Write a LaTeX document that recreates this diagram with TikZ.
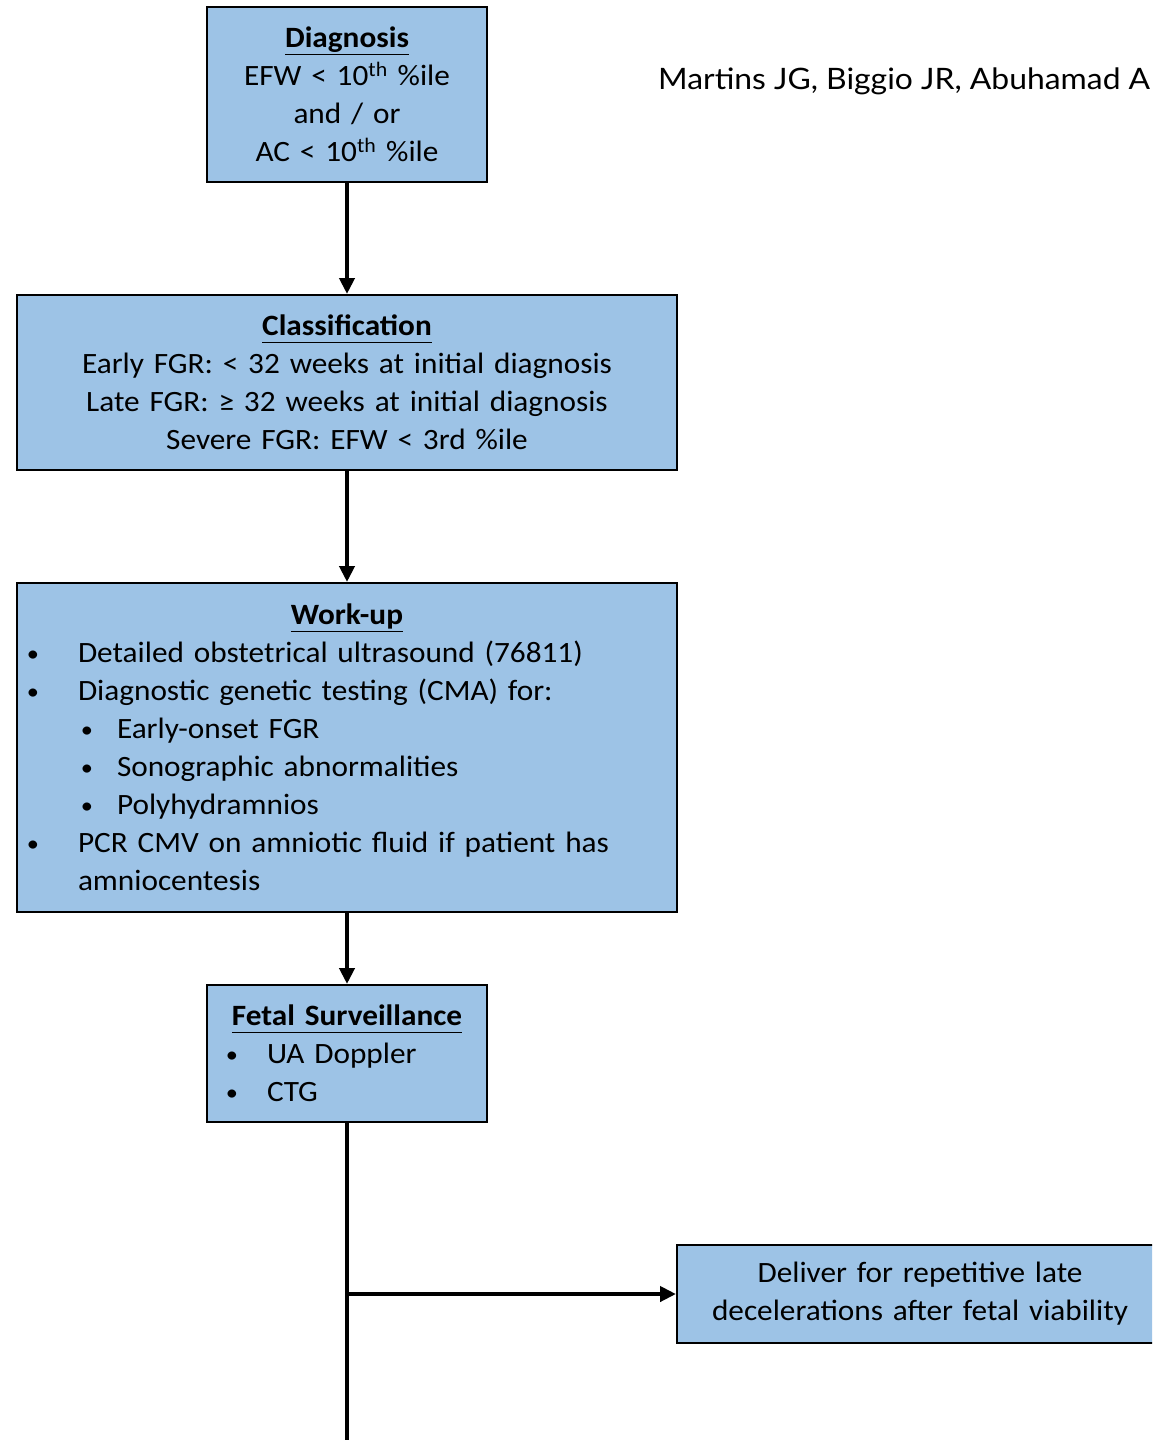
\documentclass[tikz,border=0pt]{standalone}
\usepackage{fontspec}
\setmainfont{Carlito}[FakeStretch=1.06, WordSpace=0.85]
\newfontfamily\citefont{Lato}[FakeStretch=1.08]
\usetikzlibrary{arrows.meta}
\definecolor{boxblue}{HTML}{9DC3E6}

% underlined heading with a fixed descender depth
\newcommand\boxhead[1]{\underline{\textbf{#1}\vphantom{g}}}
% small list bullet, centred on the current point
\newcommand\bul{\makebox[0pt][c]{\raisebox{1pt}{\fontsize{23}{23}\selectfont\textbullet}}}

\tikzset{
  flowbox/.style={draw=black, line width=2pt, fill=boxblue, inner sep=0pt,
    text=black, font=\fontsize{29.5}{38}\selectfont},
  flow/.style={line width=4pt, -{Triangle[length=16pt,width=15pt]}},
  plainflow/.style={line width=4pt},
}

\begin{document}
\begin{tikzpicture}[x=1pt, y=-1pt]
  \clip (0,0) rectangle (1152,1440);
  \fill[white] (0,0) rectangle (1152,1440);

  % citation (runs off the right edge)
  \node[anchor=base west, inner sep=0pt, font=\citefont\fontsize{29.5}{33}\selectfont]
    (cite) at (658,89) {Martins JG, Biggio JR, Abuhamad A};

  % boxes
  \node[flowbox, minimum width=280pt, minimum height=175pt, text width=280pt, align=center]
    (diag) at (347,94.5)
    {\boxhead{Diagnosis}\\
     EFW < 10\textsuperscript{th} \%ile\\
     and / or\\
     AC < 10\textsuperscript{th} \%ile};

  \node[flowbox, minimum width=660pt, minimum height=175pt, text width=660pt, align=center]
    (class) at (347,382.5)
    {\boxhead{Classification}\\
     Early FGR: < 32 weeks at initial diagnosis\\
     Late FGR: ≥ 32 weeks at initial diagnosis\\
     Severe FGR: EFW < 3rd \%ile};

  \node[flowbox, minimum width=660pt, minimum height=329pt, text width=660pt, align=left]
    (work) at (347,747.5)
    {\makebox[660pt][c]{\boxhead{Work-up}}\\
     \hspace*{16pt}\bul\hspace*{45pt}Detailed obstetrical ultrasound (76811)\\
     \hspace*{16pt}\bul\hspace*{45pt}Diagnostic genetic testing (CMA) for:\\
     \hspace*{70pt}\bul\hspace*{30pt}Early-onset FGR\\
     \hspace*{70pt}\bul\hspace*{30pt}Sonographic abnormalities\\
     \hspace*{70pt}\bul\hspace*{30pt}Polyhydramnios\\
     \hspace*{16pt}\bul\hspace*{45pt}PCR CMV on amniotic fluid if patient has\\
     \hspace*{61pt}amniocentesis};

  \node[flowbox, minimum width=280pt, minimum height=137pt, text width=280pt, align=left]
    (surv) at (347,1053.5)
    {\makebox[280pt][c]{\boxhead{Fetal Surveillance}}\\
     \hspace*{25pt}\bul\hspace*{35pt}UA Doppler\\
     \hspace*{25pt}\bul\hspace*{35pt}CTG};

  \node[flowbox, minimum width=486pt, minimum height=98pt, text width=486pt, align=center]
    (deliver) at (920,1294)
    {Deliver for repetitive late\\
     decelerations after fetal viability};

  % connectors
  \coordinate (branch) at (347,1294);
  \coordinate (down) at (347,1460);
  \draw[flow] (diag.south) -- (class.north);
  \draw[flow] (class.south) -- (work.north);
  \draw[flow] (work.south) -- (surv.north);
  \draw[plainflow] (surv.south) -- (down);
  \draw[flow] (branch) -- (deliver.west);
\end{tikzpicture}
\end{document}
